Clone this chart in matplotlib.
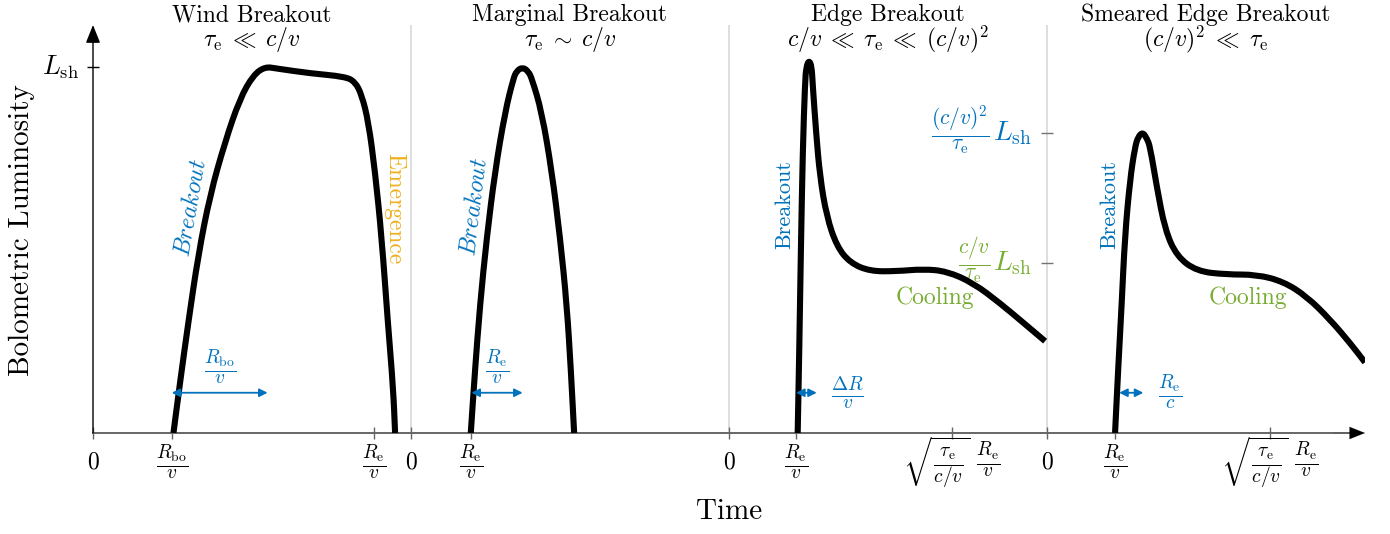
import numpy as np
import matplotlib.pyplot as plt
from matplotlib.path import Path
from matplotlib.patches import PathPatch

plt.rcParams['font.family'] = 'serif'
plt.rcParams['font.serif'] = ['cmr10']
plt.rcParams['mathtext.fontset'] = 'cm'
plt.rcParams['axes.unicode_minus'] = False

BLUE = '#0072BD'
ORANGE = '#EDB120'
GREEN = '#77AC30'

# panel headings
titles = ['Wind Breakout', 'Marginal Breakout', 'Edge Breakout', 'Smeared Edge Breakout']
regimes = [r'$\tau_{\rm e}\;\ll\; c/v$', r'$\tau_{\rm e}\;\sim\; c/v$',
           r'$c/v\;\ll\;\tau_{\rm e}\;\ll\;(c/v)^2$', r'$(c/v)^2\;\ll\;\tau_{\rm e}$']

# light curves: time in panel widths from each panel's own t=0, luminosity in L_sh
wind_t = [0.253, 0.274, 0.300, 0.331, 0.368, 0.415, 0.462, 0.504, 0.541, 0.578,
          0.682, 0.792, 0.824, 0.845, 0.866, 0.887, 0.908, 0.927, 0.944, 0.950]
wind_L = [0.0, 0.140, 0.304, 0.486, 0.650, 0.795, 0.914, 0.978, 1.001, 0.996,
          0.983, 0.974, 0.960, 0.924, 0.851, 0.714, 0.532, 0.304, 0.122, 0.0]

marg_t = [0.188, 0.201, 0.217, 0.238, 0.264, 0.296, 0.322, 0.332, 0.351, 0.369,
          0.380, 0.411, 0.443, 0.469, 0.490, 0.503, 0.513]
marg_L = [0.0, 0.168, 0.350, 0.532, 0.714, 0.878, 0.969, 0.989, 1.0, 0.988,
          0.969, 0.878, 0.714, 0.532, 0.350, 0.168, 0.0]

edge_t = [0.216, 0.221, 0.226, 0.232, 0.239, 0.243, 0.252, 0.260, 0.263, 0.274,
          0.286, 0.307, 0.339, 0.381, 0.443, 0.527, 0.611, 0.685, 0.768, 0.852,
          0.926, 0.994]
edge_L = [0.0, 0.227, 0.500, 0.773, 0.956, 1.001, 1.019, 1.001, 0.955, 0.820,
          0.701, 0.592, 0.510, 0.465, 0.442, 0.442, 0.448, 0.442, 0.410, 0.355,
          0.301, 0.251]

smear_t = [0.214, 0.224, 0.235, 0.245, 0.261, 0.277, 0.287, 0.301, 0.314, 0.324,
           0.345, 0.371, 0.408, 0.471, 0.565, 0.659, 0.743, 0.817, 0.890, 0.953, 1.0]
smear_L = [0.0, 0.178, 0.355, 0.537, 0.692, 0.783, 0.810, 0.822, 0.805, 0.783,
           0.674, 0.556, 0.483, 0.442, 0.433, 0.433, 0.414, 0.373, 0.310, 0.246, 0.193]

curves = [(wind_t, wind_L), (marg_t, marg_L), (edge_t, edge_L), (smear_t, smear_L)]

# time axis ticks (global: panel index + local time)
xtick_pos = [0, 0.248, 0.884, 1, 1.189, 2, 2.211, 2.701, 3, 3.214, 3.701]
sq = r'$\sqrt{\frac{\tau_{\rm e}}{c/v}}\ \frac{R_{\rm e}}{v}$'
xtick_lab = ['0', r'$\frac{R_{\rm bo}}{v}$', r'$\frac{R_{\rm e}}{v}$',
             '0', r'$\frac{R_{\rm e}}{v}$',
             '0', r'$\frac{R_{\rm e}}{v}$', sq,
             '0', r'$\frac{R_{\rm e}}{v}$', sq]

# luminosity levels marked on the edge/smeared divider
level_L = [0.820, 0.4645]
level_frac = [r'$\frac{(c/v)^2}{\tau_{\rm e}}$', r'$\frac{c/v}{\tau_{\rm e}}$']
level_col = [BLUE, GREEN]

# light-travel / diffusion arrows: (start, end) in local time, label, label pos
arrow_L = 0.11
arrow_span = [(0.2475, 0.549), (0.190, 0.351), (0.211, 0.276), (0.227, 0.303)]
arrow_lab = [r'$\frac{R_{\rm bo}}{v}$', r'$\frac{R_{\rm e}}{v}$',
             r'$\frac{\Delta R}{v}$', r'$\frac{R_{\rm e}}{c}$']
arrow_lab_pos = [(0.399, 0.180), (1.270, 0.178), (2.374, 0.109), (3.387, 0.112)]

ymax = 1.115


def smooth_path(x, y):
    # quadratic Bezier through the midpoints, read points used as controls
    pts = np.column_stack([x, y])
    verts = [pts[0], (pts[0] + pts[1]) / 2]
    codes = [Path.MOVETO, Path.LINETO]
    for k in range(1, len(pts) - 1):
        verts += [pts[k], (pts[k] + pts[k + 1]) / 2]
        codes += [Path.CURVE3, Path.CURVE3]
    verts.append(pts[-1])
    codes.append(Path.LINETO)
    return Path(verts, codes)


fig = plt.figure(figsize=(13.9, 5.34), dpi=100)
ax = fig.add_axes([93 / 1390, 101 / 534, 1272 / 1390, 408 / 534])
ax.set_xlim(0, 4)
ax.set_ylim(0, ymax)
for s in ax.spines.values():
    s.set_visible(False)

# panel dividers
for i in (1, 2, 3):
    ax.axvline(i, color='#d4d4d4', lw=1.1, zorder=1)

# axes with arrows
ax.plot([0, 3.96], [0, 0], color='0.4', lw=1.4, clip_on=False, zorder=2)
ax.annotate('', xy=(4, 0), xytext=(3.9, 0),
            arrowprops=dict(arrowstyle='-|>,head_length=0.55,head_width=0.22',
                            color='k', lw=0.1, mutation_scale=20, shrinkA=0, shrinkB=0),
            annotation_clip=False)
ax.annotate('', xy=(0, ymax), xytext=(0, 0),
            arrowprops=dict(arrowstyle='-|>,head_length=0.55,head_width=0.22',
                            color='k', lw=1.0, mutation_scale=20, shrinkA=0, shrinkB=0),
            annotation_clip=False)

ax.set_xticks(xtick_pos)
ax.set_yticks([1])
ax.tick_params(axis='x', direction='inout', length=8, width=1, color='0.4', labelbottom=False)
ax.tick_params(axis='y', direction='inout', length=8, width=1, color='k', labelleft=False)

for x, lab in zip(xtick_pos, xtick_lab):
    fs = 17 if lab == '0' else 20
    ax.annotate(lab, xy=(x, 0), xytext=(0, -21), textcoords='offset points',
                ha='center', va='center', fontsize=fs, annotation_clip=False)
ax.annotate(r'$L_{\rm sh}$', xy=(0, 1), xytext=(-10, 0), textcoords='offset points',
            ha='right', va='center', fontsize=19, annotation_clip=False)

# level ticks on the divider
ax.plot([3] * len(level_L), level_L, ls='none', marker='_', ms=8, mew=1, color='0.45')
for L, frac, c in zip(level_L, level_frac, level_col):
    ax.annotate(frac, xy=(3, L), xytext=(-41, 2), textcoords='offset points',
                ha='right', va='center', fontsize=22, color=c, zorder=6)
    ax.annotate(r'$L_{\rm sh}$', xy=(3, L), xytext=(-11, 0), textcoords='offset points',
                ha='right', va='center', fontsize=20, color=c)

# light curves
for i, (t, L) in enumerate(curves):
    ax.add_patch(PathPatch(smooth_path(np.array(t) + i, L), fill=False,
                           edgecolor='k', lw=4.4, joinstyle='round',
                           capstyle='butt', zorder=4))

# arrows
for i, ((a, b), lab, pos) in enumerate(zip(arrow_span, arrow_lab, arrow_lab_pos)):
    ax.annotate('', xy=(b + i, arrow_L), xytext=(a + i, arrow_L),
                arrowprops=dict(arrowstyle='<|-|>,head_length=0.6,head_width=0.3',
                                color=BLUE, lw=1.3, mutation_scale=8, shrinkA=0, shrinkB=0),
                zorder=5)
    ax.text(pos[0], pos[1], lab, color=BLUE, fontsize=20, ha='center', va='center')

# phase labels
ax.text(0.310, 0.615, r'$\mathit{Breakout}$', color=BLUE, fontsize=17, rotation=80,
        ha='center', va='center', rotation_mode='anchor')
ax.text(1.200, 0.617, r'$\mathit{Breakout}$', color=BLUE, fontsize=17, rotation=83,
        ha='center', va='center', rotation_mode='anchor')
ax.text(0.947, 0.612, 'Emergence', color=ORANGE, fontsize=17, rotation=-90,
        ha='center', va='center', rotation_mode='anchor')
ax.text(2.176, 0.623, 'Breakout', color=BLUE, fontsize=16, rotation=90,
        ha='center', va='center', rotation_mode='anchor')
ax.text(3.198, 0.623, 'Breakout', color=BLUE, fontsize=16, rotation=90,
        ha='center', va='center', rotation_mode='anchor')
ax.text(2.648, 0.369, 'Cooling', color=GREEN, fontsize=17, ha='center', va='center')
ax.text(3.632, 0.369, 'Cooling', color=GREEN, fontsize=17, ha='center', va='center')

# headings
for i, (ttl, reg) in enumerate(zip(titles, regimes)):
    ax.text(i + 0.5, 1.1257, ttl, ha='center', va='baseline', fontsize=17)
    ax.text(i + 0.5, 1.057, reg, ha='center', va='baseline', fontsize=17)

fig.text(22 / 1390, 1 - 230 / 534, 'Bolometric Luminosity', rotation=90,
         ha='center', va='center', fontsize=21)
fig.text(729 / 1390, 1 - 512 / 534, 'Time', ha='center', va='center', fontsize=21)

fig.savefig('out.png', dpi=100)
